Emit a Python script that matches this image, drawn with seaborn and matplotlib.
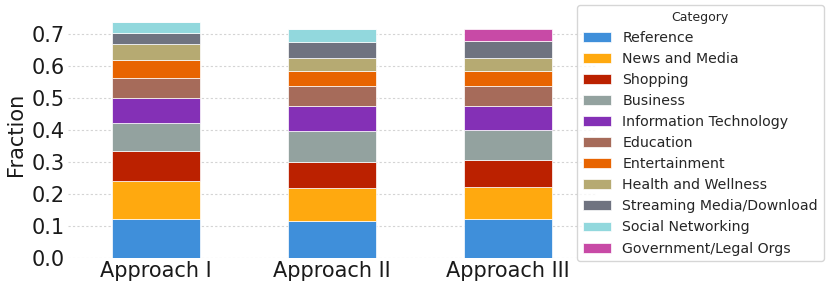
import numpy as np
import pandas as pd
import matplotlib
matplotlib.use('Agg')
import matplotlib.pyplot as plt
import matplotlib.patches as mpatches
import seaborn as sns

approaches = ['Approach I', 'Approach II', 'Approach III']
categories = ['Reference', 'News and Media', 'Shopping', 'Business',
              'Information Technology', 'Education', 'Entertainment',
              'Health and Wellness', 'Streaming Media/Download',
              'Social Networking', 'Government/Legal Orgs']
colors = ['#3F8FDA', '#FFA90F', '#BB2100', '#93A29F', '#8430B6', '#A66B5A',
          '#E86400', '#B6AA72', '#6F7380', '#92D8DD', '#C84AA6']

# fractions per category, one value per approach
reference     = [0.122, 0.115, 0.122]
news_media    = [0.119, 0.105, 0.100]
shopping      = [0.094, 0.081, 0.084]
business      = [0.087, 0.096, 0.095]
info_tech     = [0.078, 0.077, 0.075]
education     = [0.0625, 0.064, 0.0615]
entertainment = [0.056, 0.047, 0.0455]
health        = [0.050, 0.041, 0.041]
streaming     = [0.034, 0.049, 0.053]
social        = [0.034, 0.040, 0.0]
government    = [0.0, 0.0, 0.040]

series = [reference, news_media, shopping, business, info_tech, education,
          entertainment, health, streaming, social, government]

rows = []
for cat, vals in zip(categories, series):
    for app, v in zip(approaches, vals):
        rows.append({'Approach': app, 'Category': cat, 'Fraction': v})
df = pd.DataFrame(rows)

sns.set_style('whitegrid', {'grid.linestyle': (0, (2, 2)), 'grid.color': '#d4d4d4'})
plt.rcParams['font.family'] = 'sans-serif'
plt.rcParams['font.sans-serif'] = ['DejaVu Sans']

fig = plt.figure(figsize=(8.31, 2.89), dpi=100)
ax = fig.add_axes([68 / 831, 31 / 289, (596 - 68) / 831, 248 / 289])

palette = dict(zip(categories, colors))
sns.histplot(data=df, x='Approach', weights='Fraction', hue='Category',
             hue_order=categories[::-1], multiple='stack', discrete=True,
             shrink=0.5, palette=palette, alpha=1, edgecolor='white',
             linewidth=0.5, legend=False, ax=ax)

ax.set_xlim(-0.5, 2.5)
ax.set_ylim(0, 0.775)
ax.set_yticks(np.arange(0, 0.71, 0.1))
ax.set_yticklabels([f'{t:.1f}' for t in np.arange(0, 0.71, 0.1)])
ax.set_xticks(range(len(approaches)))
ax.set_xticklabels(approaches)
ax.tick_params(labelsize=15, length=0, pad=2, labelcolor='#1a1a1a')
ax.xaxis.grid(False)
ax.set_xlabel('')
ax.set_ylabel('Fraction', fontsize=15, labelpad=4, color='#1a1a1a')
for s in ax.spines.values():
    s.set_visible(False)

handles = [mpatches.Patch(facecolor=c, edgecolor='white', linewidth=0.5, label=l)
           for l, c in zip(categories, colors)]
fig.legend(handles=handles, title='Category', loc='upper left',
           bbox_to_anchor=(577 / 831, 1 - 5 / 289), fontsize=10.2,
           title_fontsize=9, labelspacing=0.5, borderaxespad=0,
           frameon=True)

fig.savefig('out.png', dpi=100)
